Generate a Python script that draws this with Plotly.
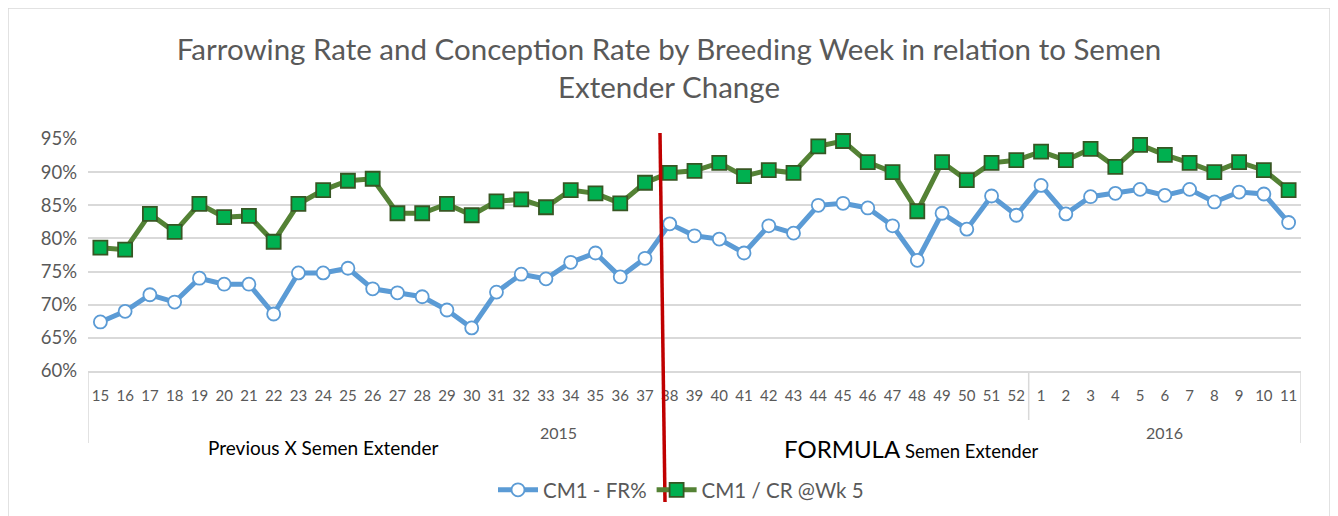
import plotly.graph_objects as go

years = ["2015"] * 38 + ["2016"] * 11
weeks = [str(w) for w in range(15, 53)] + [str(w) for w in range(1, 12)]

fr = [67.4, 69.0, 71.5, 70.4, 74.0, 73.1, 73.1, 68.6, 74.8, 74.8,
      75.5, 72.4, 71.8, 71.2, 69.2, 66.5, 71.9, 74.6, 73.9, 76.4,
      77.8, 74.2, 77.0, 82.2, 80.4, 79.9, 77.8, 81.9, 80.8, 85.0,
      85.3, 84.6, 81.9, 76.7, 83.8, 81.4, 86.4, 83.5,
      88.0, 83.7, 86.3, 86.8, 87.4, 86.5, 87.4, 85.5, 87.0, 86.7, 82.4]

cr = [78.6, 78.3, 83.7, 81.0, 85.2, 83.2, 83.4, 79.5, 85.2, 87.3,
      88.7, 89.0, 83.8, 83.8, 85.2, 83.5, 85.6, 85.9, 84.7, 87.3,
      86.8, 85.3, 88.4, 89.9, 90.2, 91.4, 89.4, 90.3, 89.9, 93.9,
      94.7, 91.5, 90.0, 84.1, 91.5, 88.8, 91.4, 91.8,
      93.1, 91.8, 93.5, 90.8, 94.1, 92.6, 91.4, 90.0, 91.5, 90.3, 87.3]

series_names = ["CM1 - FR%", "CM1 / CR @Wk 5"]
title_text = "Farrowing Rate and Conception Rate by Breeding Week in relation to Semen<br>Extender Change"

FONT = "Lato"
GREY = "#595959"
LIGHT = "#d9d9d9"

fig = go.Figure()
fig.add_trace(go.Scatter(
    x=weeks, y=fr, name=series_names[0], mode="lines+markers",
    line=dict(color="#5b9bd5", width=5),
    marker=dict(symbol="circle", size=13, color="white",
                line=dict(color="#5b9bd5", width=1.8)),
    cliponaxis=False,
))
fig.add_trace(go.Scatter(
    x=weeks, y=cr, name=series_names[1], mode="lines+markers",
    line=dict(color="#548235", width=5),
    marker=dict(symbol="square", size=14, color="#00b050",
                line=dict(color="#375623", width=1.8)),
    cliponaxis=False,
))

OFF = 8  # page body margin
W, H = 1338, 516
L, T = 88 - OFF, 139 - OFF
R = W - (1301 - OFF)
B = H - (371 - OFF)
pw, ph = W - L - R, H - T - B

def px(sx):
    return (sx - OFF - L) / pw

def py(sy):
    return (H - B - (sy - OFF)) / ph

n = len(weeks)
fig.update_layout(
    width=W, height=H,
    margin=dict(l=L, r=R, t=T, b=B, autoexpand=False),
    paper_bgcolor="white", plot_bgcolor="white",
    font=dict(family=FONT, color=GREY),
    title=dict(text=title_text, x=(669 - OFF) / W, xanchor="center", xref="container",
               y=1 - 52 / H, yanchor="top", yref="container",
               font=dict(family=FONT, size=29.5, color=GREY)),
    showlegend=True,
    legend=dict(orientation="h", x=px(681), xanchor="center", xref="paper",
                y=py(490), yanchor="middle",
                font=dict(family=FONT, size=20.5, color=GREY),
                itemwidth=40, bgcolor="rgba(0,0,0,0)"),
    xaxis=dict(type="category", showgrid=False, automargin=False,
               range=[-0.5, n - 0.5], tickangle=0, ticks="",
               showline=True, linecolor=LIGHT, linewidth=1.5,
               tickfont=dict(family=FONT, size=15, color=GREY),
               ticklabelstandoff=10),
    yaxis=dict(range=[60, 95], dtick=5, ticksuffix="%", automargin=False,
               showgrid=True, gridcolor=LIGHT, gridwidth=1.5,
               zeroline=False, showline=False,
               tickfont=dict(family=FONT, size=18.5, color=GREY),
               ticklabelstandoff=10),
)

# year group labels and dividers from the category data
groups = []
for i, yv in enumerate(years):
    if not groups or groups[-1][0] != yv:
        groups.append([yv, i, i])
    else:
        groups[-1][2] = i
for gi, (yv, i0, i1) in enumerate(groups):
    fig.add_annotation(text=yv, xref="x", yref="paper", x=(i0 + i1) / 2, y=py(432),
                       showarrow=False, xanchor="center", yanchor="middle",
                       font=dict(family=FONT, size=16, color=GREY))
    bottom = py(443) if gi == 0 else py(420)
    fig.add_shape(type="line", xref="x", yref="paper", x0=i0 - 0.5, x1=i0 - 0.5,
                  y0=0, y1=bottom, line=dict(color=LIGHT, width=1.5))
last = groups[-1][2]
fig.add_shape(type="line", xref="x", yref="paper", x0=last + 0.5, x1=last + 0.5,
              y0=0, y1=py(443), line=dict(color=LIGHT, width=1.5))

# chart border
fig.add_shape(type="rect", xref="paper", yref="paper",
              x0=px(8), x1=px(1330), y0=py(540), y1=py(8),
              line=dict(color=LIGHT, width=1.5), fillcolor="rgba(0,0,0,0)",
              layer="below")
# red change marker line
fig.add_shape(type="line", xref="paper", yref="paper",
              x0=px(660), y0=py(133), x1=px(665), y1=py(502),
              line=dict(color="#c00000", width=3.5))

fig.add_annotation(text="Previous X Semen Extender", xref="paper", yref="paper",
                   x=px(323), y=py(447), showarrow=False,
                   xanchor="center", yanchor="middle",
                   font=dict(family=FONT, size=19, color="black"))
fig.add_annotation(text="<span style='font-size:24px'>FORMULA</span> Semen Extender",
                   xref="paper", yref="paper",
                   x=px(911), y=py(448), showarrow=False,
                   xanchor="center", yanchor="middle",
                   font=dict(family=FONT, size=18.5, color="black"))

fig.write_html("out.html")
